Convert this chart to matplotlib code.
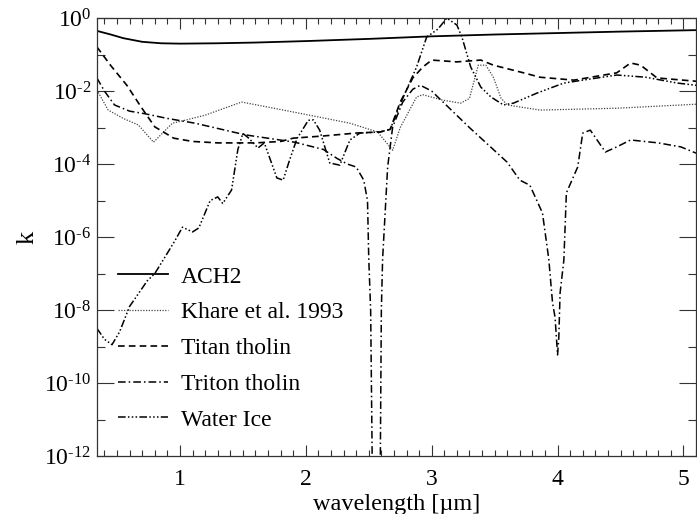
import numpy as np
import matplotlib
matplotlib.use("Agg")
import matplotlib.pyplot as plt
from matplotlib.ticker import FixedLocator, MultipleLocator, FuncFormatter, NullFormatter

plt.rcParams['font.family'] = ['Liberation Serif', 'DejaVu Serif']
plt.rcParams['mathtext.fontset'] = 'custom'
plt.rcParams['mathtext.rm'] = 'Liberation Serif'

# ---- data (wavelength in micron, log10 k) ----
ach2_w = [0.34, 0.45, 0.55, 0.7, 0.85, 1.0, 1.3, 1.6, 2.0, 2.5, 3.0, 3.5, 4.0, 4.5, 5.1]
ach2_lk = [-0.35, -0.45, -0.55, -0.65, -0.69, -0.70, -0.69, -0.67, -0.63, -0.57, -0.50, -0.45, -0.41, -0.37, -0.33]

khare_w = [0.34, 0.43, 0.55, 0.67, 0.79, 0.94, 1.04, 1.2, 1.49, 1.91, 2.35, 2.57, 2.69, 2.75, 2.88, 2.93,
           3.09, 3.23, 3.30, 3.37, 3.43, 3.49, 3.55, 3.60, 3.86, 4.47, 5.1]
khare_lk = [-1.97, -2.52, -2.75, -2.93, -3.40, -2.88, -2.80, -2.66, -2.30, -2.58, -2.88, -3.12, -3.62, -3.00, -2.16, -2.10,
            -2.25, -2.33, -2.20, -1.29, -1.29, -1.62, -2.19, -2.38, -2.52, -2.47, -2.36]

titan_w = [0.34, 0.45, 0.58, 0.69, 0.80, 0.95, 1.1, 1.3, 1.6, 1.8, 1.9, 2.14, 2.4, 2.59, 2.67, 2.75, 2.85,
           2.93, 3.0, 3.2, 3.39, 3.49, 3.73, 3.86, 4.13, 4.47, 4.58, 4.66, 4.79, 5.1]
titan_lk = [-0.79, -1.30, -1.85, -2.43, -2.98, -3.29, -3.38, -3.42, -3.42, -3.38, -3.29, -3.23, -3.15, -3.12, -3.05, -2.30, -1.64,
            -1.34, -1.15, -1.20, -1.15, -1.29, -1.50, -1.62, -1.70, -1.50, -1.23, -1.29, -1.64, -1.73]

triton_w = [0.34, 0.40, 0.48, 0.60, 0.72, 0.90, 1.12, 1.52, 1.91, 2.14, 2.25, 2.33, 2.40, 2.46, 2.49, 2.50, 2.515,
            2.53, 2.59, 2.60, 2.61, 2.63, 2.65, 2.69, 2.77, 2.85, 2.91, 3.0, 3.09, 3.3, 3.6, 3.7, 3.78, 3.88,
            3.93, 3.96, 3.98, 4.0, 4.01, 4.02, 4.05, 4.07, 4.16, 4.2, 4.26, 4.38, 4.47, 4.58, 4.8, 4.98, 5.1]
triton_lk = [-1.64, -2.00, -2.38, -2.55, -2.62, -2.75, -2.88, -3.20, -3.40, -3.60, -3.85, -4.00, -4.08, -4.44, -5.00, -6.60, -8.00,
             -13.0, -13.0, -8.00, -6.60, -5.34, -4.08, -2.98, -2.30, -1.95, -1.84, -2.00, -2.30, -3.00, -3.95, -4.44, -4.58, -5.34,
             -6.60, -7.80, -8.20, -9.23, -8.74, -7.53, -6.63, -4.79, -4.08, -3.15, -3.07, -3.67, -3.53, -3.34, -3.42, -3.53, -3.70]

ice_w = [0.34, 0.40, 0.46, 0.52, 0.60, 0.74, 0.80, 0.90, 0.96, 1.02, 1.10, 1.15, 1.24, 1.30, 1.34, 1.41, 1.46,
         1.50, 1.55, 1.62, 1.67, 1.72, 1.77, 1.82, 1.87, 1.93, 2.02, 2.06, 2.11, 2.19, 2.27, 2.35, 2.43, 2.59,
         2.67, 2.77, 2.88, 2.96, 3.05, 3.12, 3.20, 3.24, 3.31, 3.39, 3.47, 3.57, 3.65, 3.84, 4.05, 4.20, 4.47,
         4.70, 4.95, 5.1]
ice_lk = [-8.50, -8.80, -8.95, -8.60, -7.90, -7.20, -7.00, -6.44, -6.10, -5.73, -5.86, -5.75, -5.00, -4.90, -5.08, -4.71, -3.60,
          -3.16, -3.30, -3.56, -3.42, -3.90, -4.38, -4.44, -3.90, -3.30, -2.80, -2.79, -3.07, -3.97, -4.03, -3.34, -3.15, -3.12,
          -3.05, -2.20, -1.34, -0.52, -0.30, 0.00, -0.19, -0.52, -1.34, -1.89, -2.16, -2.38, -2.33, -2.05, -1.78, -1.70, -1.56,
          -1.62, -1.78, -1.84]

labels = ["ACH2", "Khare et al. 1993", "Titan tholin", "Triton tholin", "Water Ice"]

fig = plt.figure(figsize=(6.97, 5.14), dpi=100)
ax = fig.add_axes([0.139, 0.1128, 0.8596, 0.852])

def k(v):
    return 10.0 ** np.asarray(v)

ax.plot(ach2_w, k(ach2_lk), color='black', lw=1.3, ls='-', label=labels[0])
ax.plot(khare_w, k(khare_lk), color='#444444', lw=0.9, ls=(0, (1, 1.2)), label=labels[1])
ax.plot(titan_w, k(titan_lk), color='black', lw=1.2, ls=(0, (4, 2.5)), label=labels[2])
ax.plot(triton_w, k(triton_lk), color='black', lw=1.1, ls=(0, (5, 2, 1, 2)), label=labels[3])
ax.plot(ice_w, k(ice_lk), color='black', lw=1.1, ls=(0, (5, 1.5, 1, 1.5, 1, 1.5, 1, 1.5)), label=labels[4])

ax.set_yscale('log')
ax.set_xlim(0.34, 5.1)
ax.set_ylim(1e-12, 1.0)


def ylab(v, p):
    e = int(round(np.log10(v)))
    if e < 0:
        return r'$\mathregular{10^{\text{-}%d}}$' % (-e)
    return r'$\mathregular{10^{%d}}$' % e


ax.xaxis.set_major_locator(FixedLocator([1, 2, 3, 4, 5]))
ax.xaxis.set_minor_locator(MultipleLocator(0.1))
ax.yaxis.set_major_locator(FixedLocator([10.0 ** e for e in range(-12, 1, 2)]))
ax.yaxis.set_minor_locator(FixedLocator([10.0 ** e for e in range(-11, 0, 2)]))
ax.yaxis.set_minor_formatter(NullFormatter())
ax.yaxis.set_major_formatter(FuncFormatter(ylab))

ax.tick_params(which='both', direction='in', top=True, right=True, labelsize=17, width=0.8, color='#333333')
ax.tick_params(axis='x', which='major', length=8, pad=9)
ax.tick_params(axis='x', which='minor', length=4)
ax.tick_params(axis='y', which='major', length=12, pad=4)
ax.tick_params(axis='y', which='minor', length=6)
for s in ax.spines.values():
    s.set_linewidth(0.9)
    s.set_color('#333333')

ax.set_xlabel('wavelength [µm]', fontsize=17.5, labelpad=3)
ax.set_ylabel('k', fontsize=19, labelpad=4)

leg = ax.legend(loc='upper left', bbox_to_anchor=(0.02, 0.455), frameon=False, fontsize=17,
                handlelength=2.1, handletextpad=0.55, labelspacing=0.6, borderaxespad=0)

fig.savefig('out.png', dpi=100)
